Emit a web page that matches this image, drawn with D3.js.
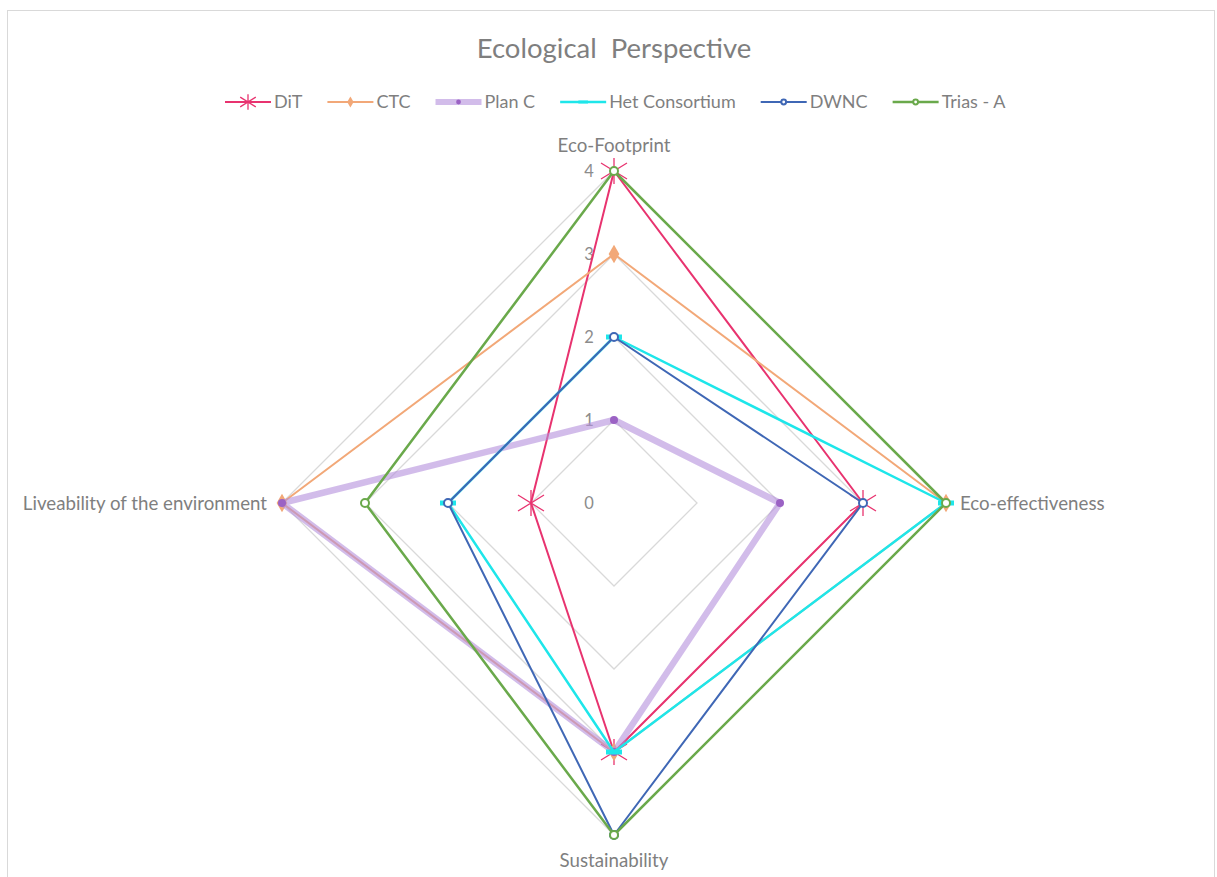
<!DOCTYPE html>
<html><head><meta charset="utf-8">
<script src="https://cdn.jsdelivr.net/npm/d3@7"></script>
<style>body{margin:0;background:#fff;} svg{display:block;font-family:Lato, "Open Sans", sans-serif;}</style>
</head><body>
<svg id="c" width="1217" height="877"></svg>
<script>
const axesLabels = ["Eco-Footprint", "Eco-effectiveness", "Sustainability", "Liveability of the environment"];
const tickValues = [0, 1, 2, 3, 4];
const seriesNames = ["DiT", "CTC", "Plan C", "Het Consortium", "DWNC", "Trias - A"];
const DiT = [4, 3, 3, 1];
const CTC = [3, 4, 3, 4];
const PlanC = [1, 2, 3, 4];
const HetConsortium = [2, 4, 3, 2];
const DWNC = [2, 3, 4, 2];
const TriasA = [4, 4, 4, 3];
const seriesValues = [DiT, CTC, PlanC, HetConsortium, DWNC, TriasA];

const styles = [
  {color:"#e8336f", width:2, marker:"star", mcolor:"#e8336f"},
  {color:"#f2a878", width:2, marker:"diamond", mcolor:"#f2a878"},
  {color:"#b48fdc", width:6.5, opacity:0.6, marker:"dot", mcolor:"#9b62c4"},
  {color:"#1ee6ea", width:2.5, marker:"dash", mcolor:"#1ee6ea"},
  {color:"#3f67b5", width:2, marker:"ocircle", mcolor:"#3f67b5"},
  {color:"#6aa94b", width:2.5, marker:"ocircle", mcolor:"#6aa94b"}
];

const svg = d3.select("#c");
const cx = 614, cy = 503, R = 332;
const r = d3.scaleLinear().domain([0, 4]).range([0, R]);
const ang = d3.scalePoint().domain(d3.range(axesLabels.length)).range([0, 2*Math.PI*(axesLabels.length-1)/axesLabels.length]);
const pt = (i, v) => [cx + r(v)*Math.sin(ang(i)), cy - r(v)*Math.cos(ang(i))];

// chart border
svg.append("rect").attr("x", 7.5).attr("y", 10.5).attr("width", 1207).attr("height", 900)
  .attr("fill", "none").attr("stroke", "#d9d9d9").attr("stroke-width", 1);

// title
svg.append("text").attr("x", 614).attr("y", 58).attr("text-anchor", "middle")
  .attr("font-size", 27.5).attr("fill", "#7f7f7f").style("white-space","pre").text("Ecological  Perspective");

// grid rings
tickValues.slice(1).forEach(t => {
  const pts = axesLabels.map((_, i) => pt(i, t));
  svg.append("path").attr("d", d3.line()(pts) + "Z").attr("fill", "none")
    .attr("stroke", "#d9d9d9").attr("stroke-width", 1.3);
});

// tick labels
tickValues.forEach(t => {
  const p = pt(0, t);
  svg.append("text").attr("x", p[0] - 25).attr("y", p[1]).attr("dy", "0.35em").attr("text-anchor", "middle")
    .attr("font-size", 16.5).attr("fill", "#8c8c8c").text(t);
});

// axis labels
const labelPos = [
  {dx:0, dy:-26, anchor:"middle"},
  {dx:14, dy:0, anchor:"start"},
  {dx:0, dy:25, anchor:"middle"},
  {dx:-15, dy:0, anchor:"end"}
];
axesLabels.forEach((lab, i) => {
  const p = pt(i, 4);
  svg.append("text").attr("x", p[0] + labelPos[i].dx).attr("y", p[1] + labelPos[i].dy).attr("dy", "0.35em")
    .attr("text-anchor", labelPos[i].anchor).attr("font-size", 18.7).attr("fill", "#7f7f7f").text(lab);
});

function drawMarker(g, type, color, x, y, scale) {
  const s = scale || 1;
  if (type === "star") {
    const h = 13*s;
    g.append("path").attr("d", `M${x-h},${y-h*0.62}L${x+h},${y+h*0.62}M${x-h},${y+h*0.62}L${x+h},${y-h*0.62}M${x},${y-h}L${x},${y+h}`)
      .attr("stroke", color).attr("stroke-width", 1.3).attr("fill", "none");
  } else if (type === "diamond") {
    g.append("path").attr("d", d3.symbol(d3.symbolDiamond, 100*s*s)()).attr("transform", `translate(${x},${y})`).attr("fill", color);
  } else if (type === "dot") {
    g.append("circle").attr("cx", x).attr("cy", y).attr("r", 4*s).attr("fill", color);
  } else if (type === "dash") {
    g.append("rect").attr("x", x-8*s).attr("y", y-2.5*s).attr("width", 16*s).attr("height", 5*s).attr("fill", color);
  } else if (type === "ocircle") {
    g.append("circle").attr("cx", x).attr("cy", y).attr("r", 4*s).attr("fill", "#fff").attr("stroke", color).attr("stroke-width", 2);
  }
}

// series
seriesValues.forEach((vals, si) => {
  const st = styles[si];
  const g = svg.append("g");
  const pts = vals.map((v, i) => pt(i, v));
  g.append("path").attr("d", d3.line()(pts) + "Z").attr("fill", "none")
    .attr("stroke", st.color).attr("stroke-width", st.width).attr("stroke-opacity", st.opacity || 1)
    .attr("stroke-linejoin", "round");
  pts.forEach(p => drawMarker(g, st.marker, st.mcolor, p[0], p[1], 1));
});

// legend
const leg = svg.append("g");
let x = 225;
const ly = 102;
seriesNames.forEach((n, si) => {
  const st = styles[si];
  leg.append("line").attr("x1", x).attr("x2", x + 46).attr("y1", ly).attr("y2", ly)
    .attr("stroke", st.color).attr("stroke-width", st.width > 5 ? 6 : st.width).attr("stroke-opacity", st.opacity || 1);
  drawMarker(leg, st.marker, st.mcolor, x + 23, ly, 0.6);
  const t = leg.append("text").attr("x", x + 49).attr("y", ly).attr("dy", "0.35em").attr("font-size", 18).attr("fill", "#7f7f7f").text(n);
  x += 49 + t.node().getComputedTextLength() + 25;
});
</script>
</body></html>
